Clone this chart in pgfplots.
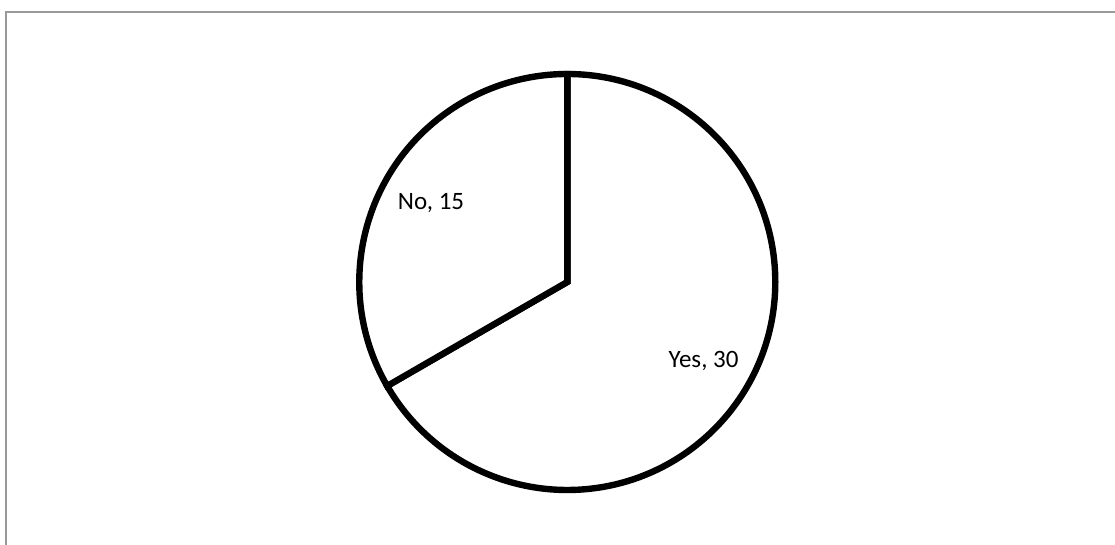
\documentclass[border=0pt]{standalone}
\usepackage{pgfplots}
\usepackage{pgfplotstable}
\pgfplotsset{compat=1.18}
\usepackage{fontspec}
\setmainfont{Carlito}

% pie data: label, value
\pgfplotstableread{
label value
Yes   30
No    15
}\piedata

\pgfplotstablegetelem{0}{value}\of\piedata \edef\va{\pgfplotsretval}
\pgfplotstablegetelem{1}{value}\of\piedata \edef\vb{\pgfplotsretval}
\pgfplotstablegetelem{0}{label}\of\piedata \edef\la{\pgfplotsretval}
\pgfplotstablegetelem{1}{label}\of\piedata \edef\lb{\pgfplotsretval}
\pgfmathsetmacro\total{\va+\vb}
% slices run clockwise from 12 o'clock
\pgfmathsetmacro\aA{90}
\pgfmathsetmacro\aB{\aA-360*\va/\total}
\pgfmathsetmacro\aC{\aB-360*\vb/\total}
\pgfmathsetmacro\mA{(\aA+\aB)/2}
\pgfmathsetmacro\mB{(\aB+\aC)/2}
\def\rad{156pt}
\def\lrad{118pt}

\begin{document}
\begin{tikzpicture}
\begin{axis}[
    width=836.25pt, height=408.75pt,
    scale only axis,
    xmin=0, xmax=1115, ymin=0, ymax=545,
    hide axis, ticks=none,
    clip=false,
]
\coordinate (bbSW) at (axis cs:0,0);
\coordinate (bbNE) at (axis cs:1115,545);
% chart frame (top and left edges visible)
\draw[black!40, line width=1.5pt] (axis cs:1115,533) -- (axis cs:6,533) -- (axis cs:6,0);
% slices
\filldraw[fill=white, draw=black, line width=4.8pt, line join=miter]
    (axis cs:567.3,263) -- ++(\aA:\rad) arc[start angle=\aA, end angle=\aB, radius=\rad] -- cycle;
\filldraw[fill=white, draw=black, line width=4.8pt, line join=miter]
    (axis cs:567.3,263) -- ++(\aB:\rad) arc[start angle=\aB, end angle=\aC, radius=\rad] -- cycle;
% data labels
\path (axis cs:567.3,263) ++(\mA:\lrad) node[font=\fontsize{18.75}{22}\selectfont] {\la, \va};
\path (axis cs:567.3,263) ++(\mB:\lrad) node[font=\fontsize{18.75}{22}\selectfont] {\lb, \vb};
\end{axis}
\pgfresetboundingbox
\path (bbSW) rectangle (bbNE);
\end{tikzpicture}
\end{document}
